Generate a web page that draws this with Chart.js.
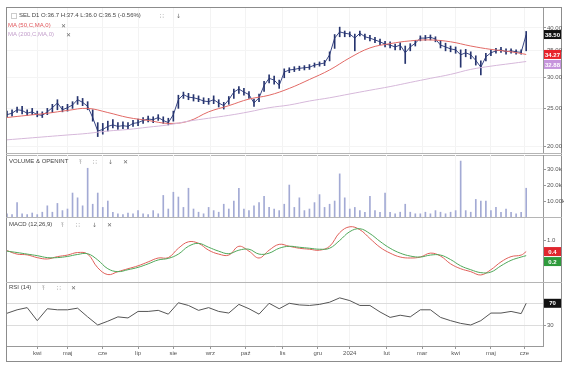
<!DOCTYPE html>
<html>
<head>
<meta charset="utf-8">
<script src="https://cdn.jsdelivr.net/npm/chart.js@4"></script>
<style>
body{margin:0;background:#fff;width:564px;height:371px;position:relative;overflow:hidden;font-family:"Liberation Sans",Arial,sans-serif}
canvas{position:absolute;left:7px}
.t{position:absolute;font-size:6px;color:#444;white-space:nowrap;line-height:7px}
.ic{position:absolute;font-size:6px;color:#666;line-height:7px;font-family:"DejaVu Sans",sans-serif}
.frame{position:absolute;left:6px;top:7px;width:556px;height:355px;border:1px solid #8c8c8c;box-sizing:border-box}
.sep{position:absolute;left:6px;width:556px;height:0;border-top:1px solid #b5b5b5}
.chk{position:absolute;left:11px;top:13px;width:4px;height:4px;border:1px solid #ccc}
</style>
</head>
<body>
<div class="frame"></div>
<div class="sep" style="top:153px"></div>
<div class="sep" style="top:155px"></div>
<div class="sep" style="top:217px"></div>
<div class="sep" style="top:282px"></div>

<canvas id="price" width="557" height="145" style="top:8px"></canvas>
<canvas id="vol" width="557" height="62" style="top:155px"></canvas>
<canvas id="macd" width="557" height="64" style="top:218px"></canvas>
<canvas id="rsi" width="557" height="79" style="top:283px"></canvas>

<div class="chk"></div>
<div class="t" style="left:19px;top:12px">SEL D1 O:36.7 H:37.4 L:36.0 C:36.5 (-0.56%)</div>
<div class="ic" style="left:160px;top:12px">∷</div>
<div class="ic" style="left:176px;top:12px">↓</div>
<div class="t" style="left:8px;top:22px;color:#e0555a">MA (50,C,MA,0)</div>
<div class="ic" style="left:61px;top:22px">✕</div>
<div class="t" style="left:8px;top:31px;color:#c4a0cc">MA (200,C,MA,0)</div>
<div class="ic" style="left:66px;top:31px">✕</div>

<div class="t" style="left:9px;top:158px">VOLUME &amp; OPENINT</div>
<div class="ic" style="left:79px;top:158px">⤒</div>
<div class="ic" style="left:93px;top:158px">∷</div>
<div class="ic" style="left:108px;top:158px">↓</div>
<div class="ic" style="left:123px;top:158px">✕</div>

<div class="t" style="left:9px;top:221px">MACD (12,26,9)</div>
<div class="ic" style="left:61px;top:221px">⤒</div>
<div class="ic" style="left:76px;top:221px">∷</div>
<div class="ic" style="left:92px;top:221px">↓</div>
<div class="ic" style="left:107px;top:221px">✕</div>

<div class="t" style="left:9px;top:284px">RSI (14)</div>
<div class="ic" style="left:42px;top:284px">⤒</div>
<div class="ic" style="left:57px;top:284px">∷</div>
<div class="ic" style="left:71px;top:284px">✕</div>

<script>
// x axis = session number (trading days since start), months marked at their first session
const monthTicks = [18, 36, 57, 78, 99, 121, 142, 164, 185, 204, 226, 247, 267, 288, 308];
const monthLabels = ['kwi', 'maj', 'cze', 'lip', 'sie', 'wrz', 'paź', 'lis', 'gru', '2024', 'lut', 'mar', 'kwi', 'maj', 'cze'];

// price bars, one every 3 sessions
const barStep = 3;
const highs = [24.6,24.8,25.2,25.3,24.8,25.0,24.6,24.5,25.0,25.6, 26.3,25.3,25.6,26.0,26.8,26.5,26.0,24.8,23.0,22.9,
  23.2,23.4,23.0,23.1,23.0,23.3,23.5,23.7,23.9,23.8, 24.1,23.8,23.6,24.6,27.0,27.5,27.3,27.1,26.9,26.6,
  26.5,26.9,26.3,25.9,26.8,28.0,28.4,28.1,27.6,26.4, 27.2,29.3,30.4,30.2,29.5,31.5,31.7,31.9,32.0,32.1,
  32.3,32.6,32.8,33.1,34.8,38.5,40.2,39.3,39.1,38.6, 39.3,38.6,38.3,37.9,37.5,37.0,36.9,36.4,36.7,36.0,
  36.5,37.2,38.2,38.3,38.4,38.0,37.2,36.6,36.0,35.8, 35.2,35.3,34.8,34.0,33.0,34.5,35.2,35.5,35.7,35.4,
  35.4,35.2,35.2,39.2];
const lows = [23.7,23.9,24.4,24.2,24.0,24.1,23.8,23.7,24.1,24.4, 24.8,24.5,24.6,25.0,25.6,25.4,24.8,23.2,21.2,21.5,
  21.9,22.3,22.1,22.2,22.2,22.5,22.6,22.9,23.1,23.0, 23.3,22.9,22.7,23.2,25.0,26.5,26.3,26.1,26.0,25.7,
  25.6,25.7,25.2,24.9,25.6,26.5,27.3,27.0,26.5,25.3, 26.0,27.6,29.0,28.8,28.1,29.9,30.8,31.0,31.2,31.3,
  31.4,31.8,32.0,32.1,33.0,35.5,38.0,38.0,38.0,35.0, 38.2,37.4,37.1,36.7,36.3,35.8,35.6,35.2,35.2,32.5,
  35.0,36.0,37.1,37.2,37.3,36.9,35.6,35.0,34.8,34.5, 31.8,33.8,33.4,32.2,30.4,33.0,34.0,34.5,34.7,34.3,
  34.5,34.3,34.3,35.0];
const closes = [24.1,24.3,24.8,24.7,24.3,24.5,24.1,24.0,24.5,25.1, 25.8,24.8,25.1,25.5,26.3,25.9,25.3,23.7,21.9,22.1,
  22.5,22.7,22.5,22.6,22.5,22.9,23.0,23.3,23.5,23.4, 23.7,23.3,23.0,24.1,26.3,27.1,26.7,26.6,26.4,26.1,
  26.0,26.3,25.8,25.4,26.3,27.5,28.0,27.5,27.1,25.8, 26.6,28.6,29.8,29.5,28.6,30.9,31.3,31.4,31.6,31.7,
  31.8,32.2,32.4,32.6,34.2,37.7,39.1,38.8,38.6,37.7, 38.8,38.0,37.7,37.3,36.9,36.4,36.2,35.8,36.2,34.6,
  35.8,36.6,37.7,37.7,37.9,37.5,36.2,35.8,35.4,35.2, 34.2,34.6,34.2,33.1,31.8,33.8,34.6,35.0,35.2,34.8,
  35.0,34.8,34.7,38.5];
// volume in thousands, same sessions as the bars
const volumes = [2,1.5,9,2,1.5,2.5,1.5,3,7,3, 8.5,4,5,15,12,7,30.5,8,15,6,
  10,3,2,1.5,2.5,2,4,2,1.5,4, 2,13.5,5,15.5,12.5,6,18,5,3,2,
  6,4,3,8,5,10,18,5,4,7, 9,13,6,5,4,8,20,6,12,4,
  5,9,14,6,8,10,27,12,5,6, 4,3,13,4,3,15,3,2,3,8,
  3,2,2,3,2,4,3,2,3,4, 35,4,3,11,10,10,4,6,3,5,
  3,2,3,18];

// moving averages read every 12 sessions (last point = last session)
const maStep = 12;
const ma50 = [23.7,24.0,24.3,24.7,25.0,24.4,23.7,23.3,22.9,23.2,24.5,25.4,26.4,27.0,28.1,29.6,31.3,33.6,35.6,36.5,37.1,37.3,36.9,36.0,35.3,34.8,34.27];
const ma200 = [20.8,21.0,21.2,21.4,21.6,21.9,22.1,22.4,22.7,23.2,23.6,24.0,24.5,25.1,25.5,26.1,26.6,27.2,27.8,28.4,29.1,29.8,30.5,31.4,32.0,32.5,32.88];

// oscillators read every 6 sessions (last point = last session)
const oscStep = 6;
const macdLine = [0.48,0.3,0.26,0.12,0.05,0.17,0.25,0.38,0.3,-0.4, -0.75,-0.6,-0.45,-0.3,-0.1,0.1,0.12,0.6,0.93,0.85,
  0.5,0.3,0.25,0.7,0.45,0.1,0.5,0.8,0.7,0.6, 0.55,0.5,0.7,1.4,1.7,1.55,1.1,0.65,0.35,0.15,
  0.1,0.15,0.35,0.2,-0.2,-0.45,-0.6,-0.77,-0.5,-0.1, 0.17,0.25,0.43];
const signalLine = [0.45,0.38,0.3,0.22,0.12,0.12,0.18,0.28,0.32,0.0, -0.45,-0.6,-0.5,-0.38,-0.2,0.0,0.08,0.3,0.7,0.85,
  0.65,0.45,0.32,0.5,0.55,0.3,0.35,0.6,0.7,0.65, 0.6,0.55,0.6,1.0,1.45,1.6,1.35,0.95,0.6,0.35,
  0.2,0.15,0.25,0.25,0.02,-0.3,-0.5,-0.65,-0.62,-0.3, -0.02,0.15,0.22];
const rsiLine = [51.6,58,62,38,60,58,58,61,45,30, 37,45,43,55,55,57,50,71,66,57,
  62,55,52,68,60,50,70,60,70,67, 66,68,72,80,75,66,66,54,44,48,
  45,58,58,44,38,33,30,38,52,52, 55,51,70];

const lastSession = 309;
const priceTicks = [20, 25, 30, 35, 40];
const volTicks = [10, 20, 30];
const volTickLabels = ['10.00k', '20.0k', '30.0k'];

const navy = '#27356f';

function sess(arr, step) {
  return arr.map((v, i) => ({ x: Math.min(i * step, lastSession), y: v }));
}

function xAxis(showLabels) {
  return {
    type: 'linear', min: 0, max: 319, offset: false,
    afterBuildTicks: s => { s.ticks = monthTicks.map(v => ({ value: v })); },
    ticks: { display: showLabels, autoSkip: false, maxRotation: 0, color: '#555', font: { size: 6 }, padding: 1,
      callback: v => monthLabels[monthTicks.indexOf(v)] },
    grid: { color: '#f3f3f3', offset: false, drawTicks: showLabels, tickLength: 3, tickColor: '#999' },
    border: { display: showLabels, color: '#999' },
    afterFit: s => { s.height = showLabels ? 16 : 0; s.paddingLeft = 0; s.paddingRight = 0; }
  };
}

function yAxis(extra) {
  return Object.assign({
    position: 'right',
    ticks: { color: '#555', font: { size: 6 }, padding: 1 },
    grid: { drawOnChartArea: false, tickLength: 3, tickColor: '#999' },
    border: { display: true, color: '#999' },
    afterFit: s => { s.width = 21; s.paddingTop = 0; s.paddingBottom = 0; }
  }, extra);
}

function boxes(items) {
  return {
    id: 'boxes',
    afterDraw(chart) {
      const y = chart.scales.y, ctx = chart.ctx, h = 9;
      const list = items.map(it => Object.assign({ py: y.getPixelForValue(it.value) }, it)).sort((a, b) => a.py - b.py);
      for (let k = 1; k < list.length; k++) {
        if (list[k].py - list[k - 1].py < h + 1) list[k].py = list[k - 1].py + h + 1;
      }
      ctx.save();
      ctx.font = 'bold 6px "Liberation Sans", Arial';
      ctx.textAlign = 'center';
      ctx.textBaseline = 'middle';
      list.forEach(it => {
        ctx.fillStyle = it.bg;
        ctx.fillRect(y.left + 1, it.py - h / 2, 17, h);
        ctx.fillStyle = '#fff';
        ctx.fillText(it.text, y.left + 9.5, it.py + 0.5);
      });
      ctx.restore();
    }
  };
}

const base = {
  responsive: false, animation: false, events: [],
  layout: { padding: 0 },
  plugins: { legend: { display: false }, tooltip: { enabled: false } },
  elements: { point: { radius: 0 } }
};

new Chart(document.getElementById('price'), {
  type: 'bar',
  data: {
    datasets: [
      { type: 'line', data: sess(ma200, maStep), borderColor: '#d6b8da', borderWidth: 1, tension: 0.4 },
      { type: 'line', data: sess(ma50, maStep), borderColor: '#e26a66', borderWidth: 1, tension: 0.4 },
      { data: lows.map((l, i) => ({ x: i * barStep, y: [l, highs[i]] })), backgroundColor: navy, barThickness: 1 },
      { type: 'line', data: closes.map((c, i) => ({ x: i * barStep, y: c })), borderColor: '#3a4785', borderWidth: 1, tension: 0 }
    ]
  },
  options: Object.assign({}, base, {
    scales: {
      x: xAxis(false),
      y: yAxis({
        type: 'logarithmic', min: 19.26, max: 44.96,
        afterBuildTicks: s => { s.ticks = priceTicks.map(v => ({ value: v })); },
        ticks: { color: '#555', font: { size: 6 }, padding: 1, callback: v => Number(v).toFixed(2) },
        grid: { color: '#f4f4f4', tickLength: 3, tickColor: '#999' }
      })
    }
  }),
  plugins: [boxes([
    { value: 38.5, text: '38.50', bg: '#111' },
    { value: 34.27, text: '34.27', bg: '#e8232c' },
    { value: 32.88, text: '32.88', bg: '#c694dc' }
  ])]
});

new Chart(document.getElementById('vol'), {
  type: 'bar',
  data: {
    datasets: [
      { data: volumes.map((v, i) => ({ x: i * barStep, y: v })), backgroundColor: '#a3aad4', barThickness: 1 }
    ]
  },
  options: Object.assign({}, base, {
    scales: {
      x: xAxis(false),
      y: yAxis({
        min: 0, max: 38.8,
        afterBuildTicks: s => { s.ticks = volTicks.map(v => ({ value: v })); },
        ticks: { color: '#555', font: { size: 6 }, padding: 1, callback: v => volTickLabels[volTicks.indexOf(v)] }
      })
    }
  })
});

new Chart(document.getElementById('macd'), {
  type: 'line',
  data: {
    datasets: [
      { data: sess(signalLine, oscStep), borderColor: '#4fa85a', borderWidth: 1, tension: 0.4 },
      { data: sess(macdLine, oscStep), borderColor: '#e0605a', borderWidth: 1, tension: 0.4 }
    ]
  },
  options: Object.assign({}, base, {
    scales: {
      x: xAxis(false),
      y: yAxis({
        min: -1.13, max: 2.15,
        afterBuildTicks: s => { s.ticks = [{ value: 1 }]; },
        ticks: { color: '#555', font: { size: 6 }, padding: 1, callback: v => Number(v).toFixed(1) }
      })
    }
  }),
  plugins: [boxes([
    { value: 0.43, text: '0.4', bg: '#e0262e' },
    { value: 0.22, text: '0.2', bg: '#2e9a3c' }
  ])]
});

new Chart(document.getElementById('rsi'), {
  type: 'line',
  data: {
    datasets: [
      { data: sess(rsiLine, oscStep), borderColor: '#555', borderWidth: 1, tension: 0 }
    ]
  },
  options: Object.assign({}, base, {
    scales: {
      x: xAxis(true),
      y: yAxis({
        min: -8.7, max: 107.4,
        afterBuildTicks: s => { s.ticks = [{ value: 30 }, { value: 70 }]; },
        grid: { color: '#dcdcdc', tickLength: 3, tickColor: '#999' }
      })
    }
  }),
  plugins: [boxes([
    { value: 70, text: '70', bg: '#111' }
  ])]
});
</script>
</body>
</html>
